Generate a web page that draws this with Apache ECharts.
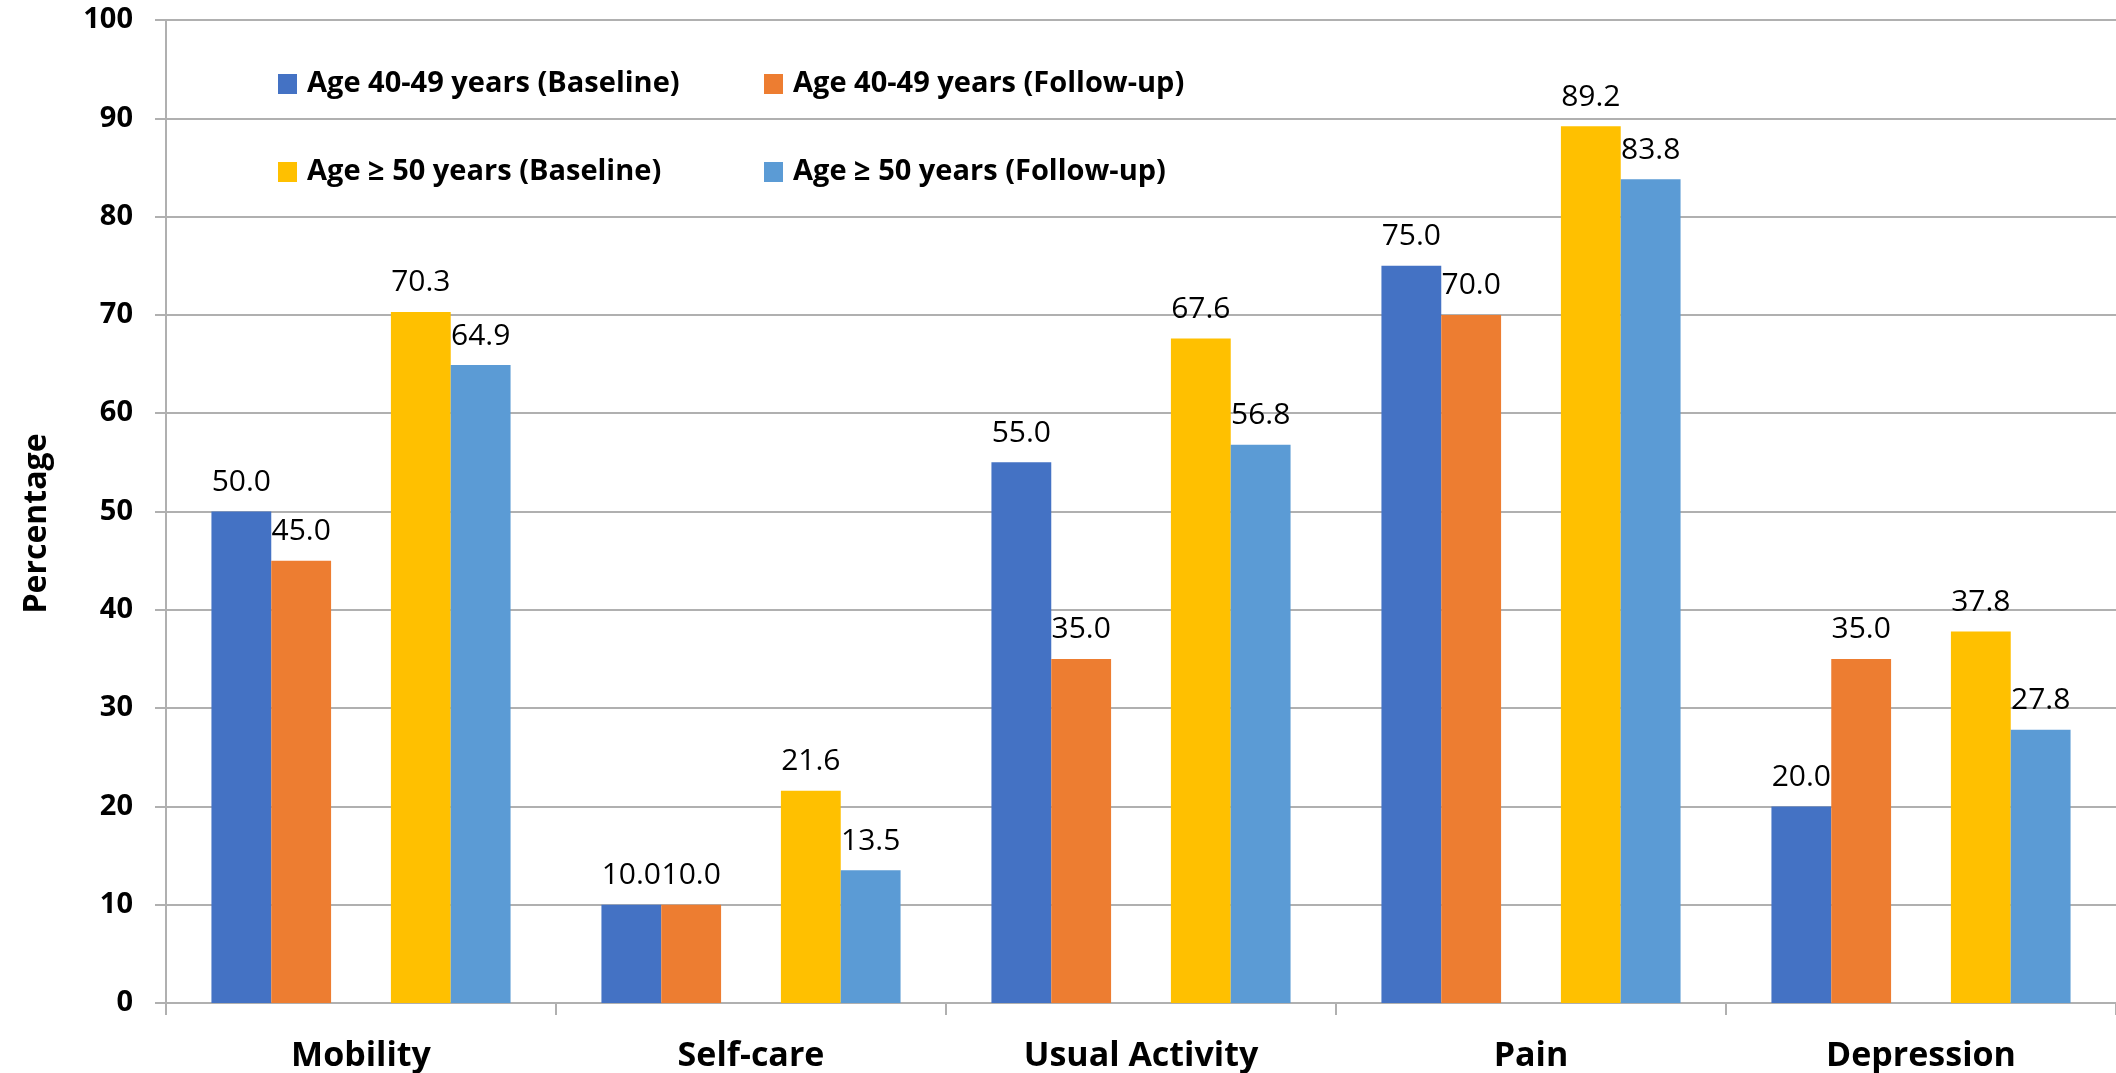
<!DOCTYPE html>
<html>
<head>
<meta charset="utf-8">
<script src="https://cdn.jsdelivr.net/npm/echarts@6/dist/echarts.min.js"></script>
<style>
  html, body { margin: 0; padding: 0; background: #ffffff; }
  #chart { width: 2116px; height: 1073px; }
</style>
</head>
<body>
<div id="chart"></div>
<script>
// EQ-5D dimensions: share of respondents reporting problems, by age group
const categories = ['Mobility', 'Self-care', 'Usual Activity', 'Pain', 'Depression'];

const age4049Baseline = [50.0, 10.0, 55.0, 75.0, 20.0];
const age4049FollowUp = [45.0, 10.0, 35.0, 70.0, 35.0];
const age50Baseline   = [70.3, 21.6, 67.6, 89.2, 37.8];
const age50FollowUp   = [64.9, 13.5, 56.8, 83.8, 27.8];

const seriesNames = [
  'Age 40-49 years (Baseline)',
  'Age 40-49 years (Follow-up)',
  'Age \u2265 50 years (Baseline)',
  'Age \u2265 50 years (Follow-up)'
];

const yTicks = { min: 0, max: 100, step: 10 };

const FONT = '"Open Sans", "DejaVu Sans", sans-serif';
const GRID_GRAY = '#b0b0b0';

const valueLabel = {
  show: true,
  position: 'top',
  distance: 14,
  fontFamily: FONT,
  fontSize: 30,
  color: '#000000',
  formatter: p => p.value.toFixed(1)
};

function barSeries(name, data, color) {
  return {
    name: name,
    type: 'bar',
    data: data,
    itemStyle: { color: color },
    label: valueLabel,
    emphasis: { disabled: true }
  };
}

const legendText = { fontFamily: FONT, fontSize: 29, fontWeight: 'bold', color: '#000', lineHeight: 30, padding: [0, 0, 0, 5] };

function legendColumn(left, names) {
  return {
    orient: 'vertical',
    left: left,
    top: 69,
    padding: 0,
    itemWidth: 19,
    itemHeight: 20,
    itemGap: 58,
    icon: 'rect',
    selectedMode: false,
    data: names,
    textStyle: legendText
  };
}

const chart = echarts.init(document.getElementById('chart'), null, { renderer: 'canvas' });

chart.setOption({
  animation: false,
  backgroundColor: '#ffffff',
  textStyle: { fontFamily: FONT },
  grid: { left: 166, top: 20, width: 1955, height: 983, containLabel: false },
  legend: [
    legendColumn(278, [seriesNames[0], seriesNames[2]]),
    legendColumn(764, [seriesNames[1], seriesNames[3]])
  ],
  xAxis: {
    type: 'category',
    data: categories,
    axisLine: { lineStyle: { color: GRID_GRAY, width: 2 } },
    axisTick: { show: true, length: 12, lineStyle: { color: GRID_GRAY, width: 2 } },
    axisLabel: { fontFamily: FONT, fontSize: 34, fontWeight: 'bold', color: '#000', margin: 36 }
  },
  yAxis: {
    type: 'value',
    min: yTicks.min,
    max: yTicks.max,
    interval: yTicks.step,
    name: 'Percentage',
    nameLocation: 'middle',
    nameRotate: 90,
    nameGap: 113,
    nameTextStyle: { fontFamily: FONT, fontSize: 32, fontWeight: 'bold', color: '#000', padding: [0, 24, 0, 0] },
    axisLine: { show: true, lineStyle: { color: GRID_GRAY, width: 2 } },
    axisTick: { show: true, length: 11, lineStyle: { color: GRID_GRAY, width: 2 } },
    axisLabel: { fontFamily: FONT, fontSize: 29, fontWeight: 'bold', color: '#000', margin: 33 },
    splitLine: { show: true, lineStyle: { color: GRID_GRAY, width: 2 } }
  },
  series: [
    Object.assign(barSeries(seriesNames[0], age4049Baseline, '#4472C4'), { barGap: '0%', barCategoryGap: '23.3%' }),
    barSeries(seriesNames[1], age4049FollowUp, '#ED7D31'),
    // empty slot that separates the two age groups inside each category
    { name: 'spacer', type: 'bar', data: [], silent: true },
    barSeries(seriesNames[2], age50Baseline, '#FFC000'),
    barSeries(seriesNames[3], age50FollowUp, '#5B9BD5')
  ]
});
</script>
</body>
</html>
